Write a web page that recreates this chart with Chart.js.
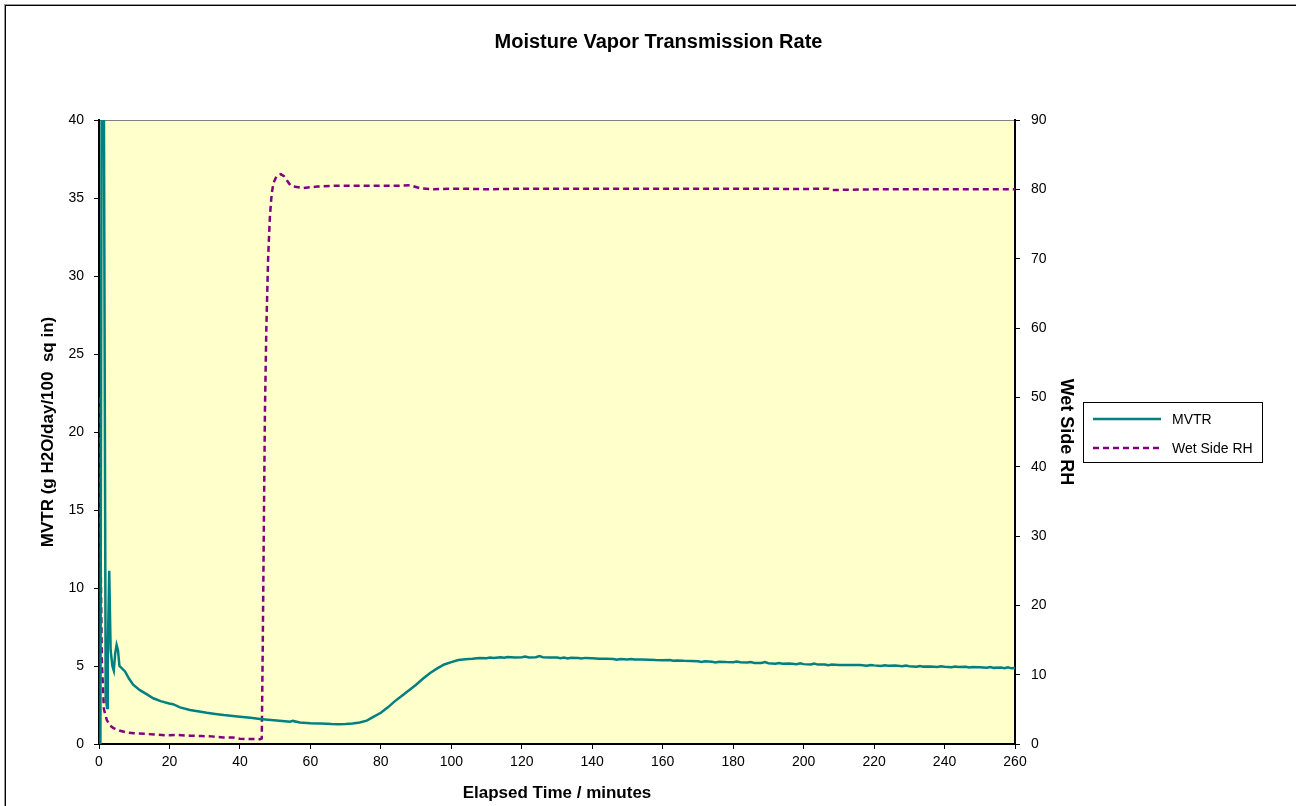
<!DOCTYPE html>
<html>
<head>
<meta charset="utf-8">
<script src="https://cdn.jsdelivr.net/npm/chart.js@4.4.0/dist/chart.umd.min.js"></script>
<style>
  html, body { margin: 0; padding: 0; background: #ffffff; overflow: hidden; width: 1296px; height: 806px; }
  #frame { position: absolute; left: 5px; top: 5px; width: 1310px; height: 820px; border: 1px solid #000; box-shadow: -1px -1px 0 #999; background: #fff; }
  #c { position: absolute; left: 1px; top: 1px; }
</style>
</head>
<body>
<div id="frame"><canvas id="c" width="1303" height="799"></canvas></div>
<script>
// ---- data ----
const chartTitle = "Moisture Vapor Transmission Rate";
const xTitle = "Elapsed Time / minutes";
const yTitle = "MVTR (g H2O/day/100  sq in)";
const y2Title = "Wet Side RH";
const seriesNames = ["MVTR", "Wet Side RH"];

const mvtrX = [0,0.4,0.8,1.3,1.9,2.3,2.5,2.9,3.3,3.8,4.2,4.6,5.0,5.4,5.8,6.3,7.4,8.5,9.7,11.6,13.5,15.4,17.5,19.9,21,23,25.8,28,30.6,33,35.4,38,40,43,45.7,48,50.4,52,54.2,55,57,60,63,66,68,70,72,74,76,78,80,82,84,86,88,90,92,94,96,98,100,102,104,106,108,110,111,112,114,115,116,118,120,121,122,124,125,126,128,130,131,132,133,134,136,137,138,140,142,144,146,147,148,150,151,152,154,156,158,160,162,163,164,166,168,170,171,172,174,175,176,178,180,181,182,184,185,186,188,189,190,192,193,194,196,198,199,200,202,203,204,206,207,208,210,212,214,216,218,219,220,222,223,224,226,228,229,230,232,233,234,236,238,239,240,242,243,244,246,247,248,250,252,253,254,256,257,258,259,260];
const mvtrY = [0,0,48,48,3.0,2.3,6,11.1,6,5.0,4.7,5.8,6.35,6.0,5.0,4.9,4.65,4.2,3.8,3.45,3.2,2.93,2.75,2.6,2.55,2.35,2.18,2.1,2.0,1.93,1.86,1.8,1.75,1.68,1.6,1.55,1.5,1.47,1.43,1.48,1.38,1.33,1.32,1.28,1.27,1.28,1.32,1.38,1.5,1.75,2.0,2.35,2.75,3.1,3.45,3.8,4.2,4.55,4.85,5.1,5.25,5.38,5.44,5.47,5.52,5.50,5.55,5.52,5.56,5.53,5.58,5.55,5.56,5.6,5.55,5.56,5.63,5.56,5.54,5.55,5.5,5.54,5.49,5.53,5.51,5.48,5.52,5.5,5.47,5.46,5.45,5.4,5.45,5.42,5.45,5.41,5.42,5.4,5.38,5.37,5.38,5.34,5.36,5.33,5.32,5.3,5.26,5.3,5.27,5.23,5.27,5.25,5.24,5.28,5.24,5.22,5.25,5.2,5.2,5.25,5.18,5.14,5.19,5.14,5.16,5.12,5.17,5.12,5.1,5.15,5.09,5.1,5.05,5.09,5.06,5.06,5.06,5.06,5.02,5.07,5.04,5.0,5.05,5.01,5.03,4.98,5.03,4.99,4.96,5.0,4.96,4.97,4.94,4.99,4.95,4.92,4.96,4.93,4.95,4.9,4.94,4.92,4.89,4.94,4.88,4.9,4.86,4.91,4.85,4.88];

const rhX = [0,0.4,0.8,1.4,2.2,3,4.1,6,7.9,10,13.5,16,19.2,22,25.8,29,32,35.3,38,40,43,45.7,46.2,46.5,46.8,47.1,47.5,48,48.5,49,49.5,50.4,51.6,52.5,53.3,54.3,55.2,58,62,65.6,75,85,88.3,89.5,91.1,95,100,103.4,110,120,140,160,180,200,207,208,220,240,260];
const rhY = [50,30,12,5,3.5,2.7,2.3,1.9,1.65,1.55,1.45,1.35,1.25,1.3,1.2,1.15,1.1,0.95,0.95,0.75,0.72,0.7,0.8,15,32,48,60,70,76,79.3,80.9,81.9,82.2,81.9,81.3,80.6,80.4,80.2,80.4,80.5,80.5,80.5,80.6,80.4,80.15,80.0,80.1,80.1,80.0,80.1,80.1,80.1,80.1,80.05,80.1,79.9,80.0,80.0,80.0];

const xTicks = { min: 0, max: 260, step: 20 };
const yTicks = { min: 0, max: 40, step: 5 };
const y2Ticks = { min: 0, max: 90, step: 10 };

const FONT = "'Liberation Sans', Arial, sans-serif";
const teal = "#008080";
const purple = "#800080";

const toPts = (xs, ys) => xs.map((x, i) => ({ x: x, y: ys[i] }));

const bgPlugin = {
  id: 'bg',
  beforeDraw(chart) {
    const { ctx, chartArea: a } = chart;
    ctx.save();
    ctx.fillStyle = "#FFFFCC";
    ctx.fillRect(a.left, a.top, a.right - a.left, a.bottom - a.top);
    ctx.strokeStyle = "#808080";
    ctx.lineWidth = 1;
    ctx.strokeRect(a.left + 0.5, a.top + 0.5, a.right - a.left - 1, a.bottom - a.top);
    ctx.restore();
  }
};

const titlePlugin = {
  id: 'ttl',
  afterDraw(chart) {
    const ctx = chart.ctx;
    ctx.save();
    ctx.font = "bold 20px " + FONT;
    ctx.fillStyle = "#000";
    ctx.textAlign = "center";
    ctx.textBaseline = "middle";
    ctx.fillText(chartTitle, chart.width / 2, 35);
    ctx.restore();
  }
};

const legendPlugin = {
  id: 'lgd',
  afterDraw(chart) {
    const { ctx, chartArea: a } = chart;
    const x = a.right + 68, y = a.top + 282, w = 179, h = 60;
    ctx.save();
    ctx.fillStyle = "#fff";
    ctx.fillRect(x, y, w, h);
    ctx.strokeStyle = "#000";
    ctx.lineWidth = 1;
    ctx.strokeRect(x + 0.5, y + 0.5, w, h);
    chart.data.datasets.forEach((ds, i) => {
      const ly = y + 17 + i * 29;
      ctx.strokeStyle = ds.borderColor;
      ctx.lineWidth = ds.borderWidth;
      ctx.setLineDash(ds.borderDash || []);
      ctx.beginPath();
      ctx.moveTo(x + 10, ly);
      ctx.lineTo(x + 78, ly);
      ctx.stroke();
      ctx.setLineDash([]);
      ctx.fillStyle = "#000";
      ctx.font = "14px " + FONT;
      ctx.textBaseline = "middle";
      ctx.textAlign = "left";
      ctx.fillText(ds.label, x + 89, ly + 1);
    });
    ctx.restore();
  }
};

const tickFont = { family: FONT, size: 14 };
const gridOpts = { drawOnChartArea: false, color: "#000", tickLength: 5, tickWidth: 1 };

new Chart(document.getElementById('c'), {
  type: 'scatter',
  data: {
    datasets: [
      { label: seriesNames[0], data: toPts(mvtrX, mvtrY), showLine: true, borderColor: teal, backgroundColor: teal, borderWidth: 2.5, pointRadius: 0, yAxisID: 'y', tension: 0 },
      { label: seriesNames[1], data: toPts(rhX, rhY), showLine: true, borderColor: purple, backgroundColor: purple, borderWidth: 2.5, borderDash: [6, 4], pointRadius: 0, yAxisID: 'y2', tension: 0 }
    ]
  },
  options: {
    responsive: false,
    animation: false,
    devicePixelRatio: 1,
    layout: { padding: { top: 113, right: 220, bottom: 0, left: 0 } },
    plugins: { legend: { display: false }, title: { display: false }, tooltip: { enabled: false } },
    scales: {
      x: {
        type: 'linear', min: xTicks.min, max: xTicks.max,
        ticks: { stepSize: xTicks.step, color: "#000", font: tickFont, padding: 5, maxRotation: 0 },
        grid: gridOpts,
        border: { color: "#000", width: 2 },
        title: { display: true, text: xTitle, color: "#000", font: { family: FONT, size: 17, weight: 'bold' }, padding: { top: 0, bottom: 2 } },
        afterFit(s) { s.height = 62; }
      },
      y: {
        type: 'linear', position: 'left', min: yTicks.min, max: yTicks.max,
        ticks: { stepSize: yTicks.step, color: "#000", font: tickFont, padding: 10 },
        grid: gridOpts,
        border: { color: "#000", width: 2 },
        title: { display: true, text: yTitle, color: "#000", font: { family: FONT, size: 17, weight: 'bold' }, padding: { top: 31, bottom: 0 } },
        afterFit(s) { s.width = 92; }
      },
      y2: {
        type: 'linear', position: 'right', min: y2Ticks.min, max: y2Ticks.max,
        ticks: { stepSize: y2Ticks.step, color: "#000", font: tickFont, padding: 11 },
        grid: gridOpts,
        border: { color: "#000", width: 2 },
        title: { display: true, text: y2Title, color: "#000", font: { family: FONT, size: 18, weight: 'bold' }, padding: { top: 13, bottom: 0 } },
        afterFit(s) { s.width = 75; }
      }
    }
  },
  plugins: [bgPlugin, titlePlugin, legendPlugin]
});
</script>
</body>
</html>
